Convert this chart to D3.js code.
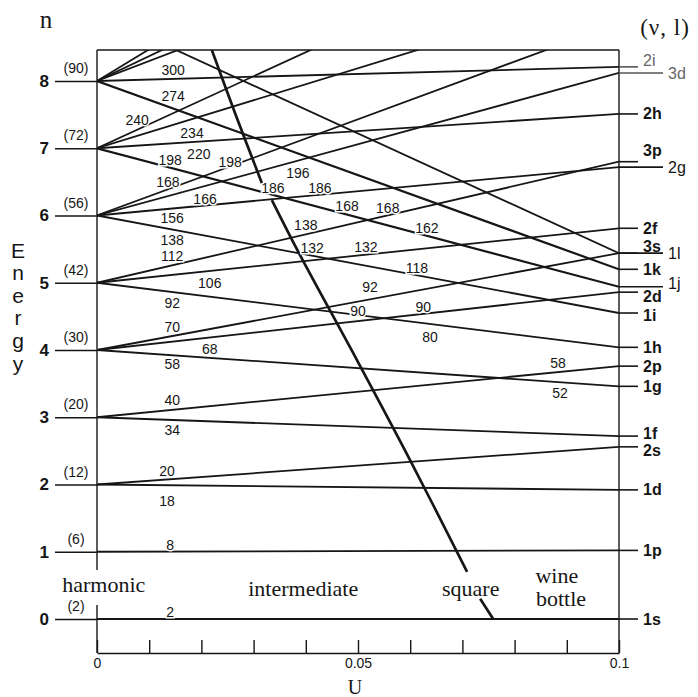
<!DOCTYPE html>
<html>
<head>
<meta charset="utf-8">
<script src="https://cdn.jsdelivr.net/npm/d3@7"></script>
<style>
  body { margin: 0; background: #fff; }
  svg { display: block; }
</style>
</head>
<body>
<svg id="chart" width="698" height="697"></svg>
<script>
// Oscillator shells n at U = 0 and their total degeneracies
const levels = [0, 1, 2, 3, 4, 5, 6, 7, 8];
const degeneracy = [2, 6, 12, 20, 30, 42, 56, 72, 90];

// Single-particle orbitals (nu, l): starting shell n and energy reached at U = 0.1
const orbitals = ["1s","1p","1d","2s","1f","2p","1g","2d","3s","1h","2f","3p",
                  "1i","2g","3d","4s","1j","2h","3f","4p","1k","2i","3g","4d","5s","1l"];
const startN   = [0, 1, 2, 2, 3, 3, 4, 4, 4, 5, 5, 5,
                  6, 6, 6, 6, 7, 7, 7, 7, 8, 8, 8, 8, 8, 9];
const endE     = [0, 1.02, 1.92, 2.56, 2.72, 3.76, 3.46, 4.86, 5.44, 4.04, 5.81, 6.80,
                  4.55, 6.72, 8.12, 8.86, 4.94, 7.51, 9.38, 10.57, 5.20, 8.21, 10.97, 11.70, 12.72, 5.44];

// Locus of the square-well limit (drawn in three pieces around its labels)
const squareU = [[0.0220, 0.0266, 0.0316], [0.0335, 0.0389, 0.0498, 0.0600, 0.0709], [0.0734, 0.0759]];
const squareE = [[8.46, 7.49, 6.48], [6.23, 5.41, 3.85, 2.36, 0.70], [0.30, 0.0]];

// Cumulative particle numbers written in the gaps
const fanText = ["300","274","240","234","198","220","198","168","166","186","196","186",
                 "156","138","138","112","106","92","70","68","58","40","34","20","18","8","2",
                 "168","168","132","132","162","118","92","90","90","80","58","52"];
const fanU = [0.0146,0.0146,0.0077,0.0182,0.0140,0.0195,0.0255,0.0136,0.0207,0.0337,0.0385,0.0427,
              0.0144,0.0400,0.0144,0.0144,0.0216,0.0144,0.0144,0.0216,0.0144,0.0144,0.0144,0.0134,0.0134,0.0140,0.0140,
              0.0479,0.0557,0.0412,0.0515,0.0632,0.0613,0.0523,0.0500,0.0625,0.0638,0.0883,0.0887];
const fanE = [8.16,7.78,7.42,7.23,6.82,6.91,6.79,6.50,6.25,6.41,6.63,6.41,
              5.96,5.86,5.63,5.40,5.00,4.70,4.34,4.01,3.79,3.26,2.81,2.20,1.75,1.10,0.10,
              6.14,6.11,5.52,5.53,5.81,5.22,4.93,4.58,4.64,4.19,3.81,3.36];

// Potential-shape regions along U
const regionText = ["harmonic", "intermediate", "square", "wine", "bottle"];
const regionU = [0.0013, 0.0395, 0.0716, 0.0881, 0.0889];
const regionE = [0.52, 0.46, 0.46, 0.65, 0.31];

// Right-hand label layout: longer leader and vertical nudge for crowded names
const longLeader = new Set(["3d", "2g", "1l", "1j"]);
const labelNudge = { "2i": -6, "3p": -11, "3s": -7, "1j": -3, "2d": 4, "1i": 2, "2s": 4, "1f": -3, "3d": 1 };
const faint = new Set(["2i", "3d"]);

const svg = d3.select("#chart");
const ink = "#161616";
const sans = "'Liberation Sans', Arial, Helvetica, sans-serif";
const serif = "'Liberation Serif', 'Times New Roman', serif";

const x = d3.scaleLinear().domain([0, 0.1]).range([97, 619]);
const y = d3.scaleLinear().domain([0, 8]).range([619, 81]);
const plotTop = 50, plotBottom = 653;
const eTop = y.invert(plotTop);

svg.append("rect").attr("width", 698).attr("height", 697).attr("fill", "#fff");

svg.append("defs").append("clipPath").attr("id", "plot")
  .append("rect").attr("x", x(0)).attr("y", plotTop)
  .attr("width", x(0.1) - x(0)).attr("height", plotBottom - plotTop);

// Frame
const frame = svg.append("g").attr("stroke", ink).attr("stroke-width", 1.4).attr("fill", "none");
frame.append("line").attr("x1", x(0)).attr("x2", x(0.1)).attr("y1", plotTop).attr("y2", plotTop);
frame.append("line").attr("x1", x(0.1)).attr("x2", x(0.1)).attr("y1", plotTop).attr("y2", plotBottom);
frame.append("line").attr("x1", x(0)).attr("x2", x(0)).attr("y1", plotTop).attr("y2", y(0.73));
frame.append("line").attr("x1", x(0)).attr("x2", x(0)).attr("y1", y(0.21)).attr("y2", plotBottom);

// Bottom axis with inward ticks every 0.01
const xAxis = d3.axisBottom(x)
  .tickValues(d3.range(11).map(i => i / 100))
  .tickSize(-13).tickSizeOuter(0).tickPadding(5)
  .tickFormat(d => (Math.abs(d) < 1e-9 ? "0" : Math.abs(d - 0.05) < 1e-9 ? "0.05" : Math.abs(d - 0.1) < 1e-9 ? "0.1" : ""));
const gx = svg.append("g").attr("transform", `translate(0,${plotBottom})`).call(xAxis);
gx.select(".domain").attr("stroke", ink).attr("stroke-width", 1.4);
gx.selectAll(".tick line").attr("stroke", ink).attr("stroke-width", 1.4);
gx.selectAll(".tick text").attr("fill", ink).attr("font-family", sans).attr("font-size", 14);

// Left level stubs with shell numbers
const yAxis = d3.axisLeft(y).tickValues(levels).tickSize(42).tickPadding(6).tickFormat(d3.format("d"));
const gy = svg.append("g").attr("transform", `translate(${x(0)},0)`).call(yAxis);
gy.select(".domain").remove();
gy.selectAll(".tick line").attr("stroke", ink).attr("stroke-width", 1.7);
gy.selectAll(".tick text").attr("fill", ink).attr("font-family", sans)
  .attr("font-size", 17).attr("font-weight", "bold");

// Degeneracies
svg.append("g").selectAll("text").data(levels).join("text")
  .attr("x", 76).attr("y", d => y(d) - 8)
  .attr("text-anchor", "middle")
  .attr("font-family", sans).attr("font-size", 14).attr("fill", ink)
  .text((d, i) => `(${degeneracy[i]})`);

// Orbital lines
const lineGen = d3.line().x(d => x(d[0])).y(d => y(d[1]));
const lines = svg.append("g").attr("clip-path", "url(#plot)")
  .attr("fill", "none").attr("stroke", ink);
orbitals.forEach((name, i) => {
  lines.append("path")
    .attr("stroke-width", name === "1k" || name === "1j" ? 2.2 : 1.8)
    .attr("d", lineGen([[0, startN[i]], [0.1, endE[i]]]));
});

// Square-well locus
const curveGen = d3.line().x(d => x(d[0])).y(d => y(d[1])).curve(d3.curveCatmullRom);
const sq = svg.append("g").attr("clip-path", "url(#plot)")
  .attr("fill", "none").attr("stroke", ink).attr("stroke-width", 2.7);
squareU.forEach((us, k) => {
  sq.append("path").attr("d", curveGen(us.map((u, j) => [u, squareE[k][j]])));
});

// Right-hand leaders and (nu, l) labels
const right = svg.append("g");
orbitals.forEach((name, i) => {
  if (endE[i] > eTop) return;
  const yy = y(endE[i]);
  const len = longLeader.has(name) ? 44 : 19;
  right.append("line")
    .attr("x1", x(0.1)).attr("x2", x(0.1) + len).attr("y1", yy).attr("y2", yy)
    .attr("stroke", faint.has(name) ? "#555" : ink).attr("stroke-width", 1.6);
  right.append("text")
    .attr("x", x(0.1) + len + 5).attr("y", yy + (labelNudge[name] || 0))
    .attr("dominant-baseline", "central")
    .attr("font-family", sans).attr("font-size", 16)
    .attr("font-weight", longLeader.has(name) || faint.has(name) ? "normal" : "bold")
    .attr("fill", faint.has(name) ? "#666" : ink)
    .text(name);
});

// Gap numbers
svg.append("g").selectAll("text").data(fanText).join("text")
  .attr("x", (d, i) => x(fanU[i])).attr("y", (d, i) => y(fanE[i]))
  .attr("text-anchor", "middle").attr("dominant-baseline", "central")
  .attr("font-family", sans).attr("font-size", 14).attr("fill", ink)
  .attr("stroke", "#fff").attr("stroke-width", 3).attr("paint-order", "stroke")
  .text(d => d);

// Region names
svg.append("g").selectAll("text").data(regionText).join("text")
  .attr("x", (d, i) => x(regionU[i])).attr("y", (d, i) => y(regionE[i]))
  .attr("text-anchor", "middle").attr("dominant-baseline", "central")
  .attr("font-family", serif).attr("font-size", 22).attr("fill", ink)
  .text(d => d);

// Axis titles
svg.append("text").attr("x", 46).attr("y", 28).attr("text-anchor", "middle")
  .attr("font-family", serif).attr("font-size", 25).attr("fill", ink).text("n");
svg.append("text").attr("x", 665).attr("y", 35).attr("text-anchor", "middle")
  .attr("font-family", serif).attr("font-size", 23).attr("letter-spacing", 1).attr("fill", ink).text("(ν, l)");
svg.append("text").attr("x", 355).attr("y", 694).attr("text-anchor", "middle")
  .attr("font-family", serif).attr("font-size", 20).attr("fill", ink).text("U");
svg.append("g").selectAll("text").data("Energy".split("")).join("text")
  .attr("x", 18).attr("y", (d, i) => 250 + i * 22.6)
  .attr("text-anchor", "middle").attr("dominant-baseline", "central")
  .attr("font-family", sans).attr("font-size", 21).attr("fill", ink)
  .text(d => d);
</script>
</body>
</html>
